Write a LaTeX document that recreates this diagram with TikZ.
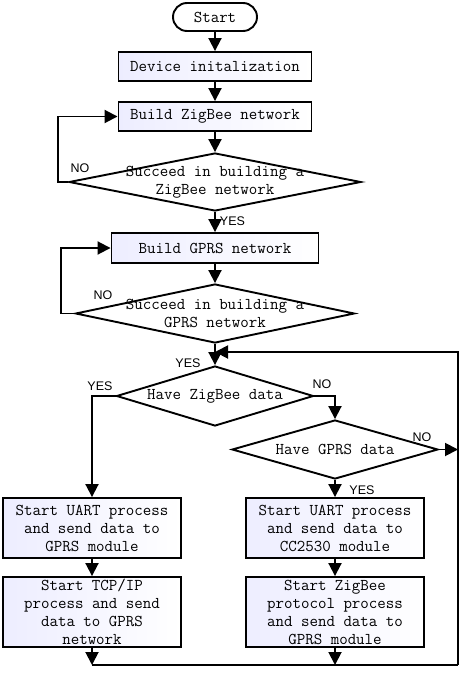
\documentclass[tikz,border=0pt]{standalone}
\usepackage{fontspec}
\usepackage{tikz}
\usetikzlibrary{shapes,shapes.geometric,arrows.meta,calc}
\newfontfamily\yesnofont{Liberation Sans}
\tikzstyle{arr}=[-{Triangle[length=13pt,width=13pt]}]
\tikzstyle{flowbox}=[draw, rectangle, left color=blue!7, right color=white, inner sep=0pt, align=center, font=\ttfamily\fontsize{16.5}{18}\selectfont]
\tikzstyle{decision}=[draw, diamond, inner sep=0pt, fill=white]
\tikzstyle{dtext}=[align=center, font=\ttfamily\fontsize{16.5}{18}\selectfont]
\tikzstyle{yn}=[font=\yesnofont\fontsize{12.5}{13}\selectfont, inner sep=1pt]

\begin{document}
\begin{tikzpicture}[x=1pt, y=-1pt, line width=1.9pt]
\useasboundingbox (0,0) rectangle (474,682);
% main column
\node[draw, rounded corners=14pt, minimum width=84, minimum height=28, inner sep=0pt, font=\ttfamily\fontsize{16.5}{18}\selectfont] (start) at (215,17) {Start};
\node[flowbox, minimum width=193, minimum height=29] (init) at (215,66.5) {Device initalization};
\node[flowbox, minimum width=193, minimum height=29] (zb) at (215,116.5) {Build ZigBee network};
\node[decision, minimum width=292, minimum height=58] (d1) at (215,182) {};
\node[dtext] at (d1) {Succeed in building a\\ZigBee network};
\node[flowbox, minimum width=207, minimum height=30] (gprs) at (215,248) {Build GPRS network};
\node[decision, minimum width=279, minimum height=59] (d2) at (215,313.5) {};
\node[dtext] at (d2) {Succeed in building a\\GPRS network};
\node[decision, minimum width=197, minimum height=60] (d3) at (215,396) {};
\node[dtext] at (d3) {Have ZigBee data};
\node[decision, minimum width=206, minimum height=59] (d4) at (335,449.5) {};
\node[dtext] at (d4) {Have GPRS data};
% process boxes
\node[flowbox, minimum width=178, minimum height=60] (l1) at (92,528) {Start UART process\\and send data to\\GPRS module};
\node[flowbox, minimum width=178, minimum height=70] (l2) at (92,612) {Start TCP/IP\\process and send\\data to GPRS\\network};
\node[flowbox, minimum width=178, minimum height=60] (r1) at (335,528) {Start UART process\\and send data to\\CC2530 module};
\node[flowbox, minimum width=178, minimum height=70] (r2) at (335,612) {Start ZigBee\\protocol process\\and send data to\\GPRS module};
\coordinate (join) at (215,352);
\coordinate (back) at (458,665);
\coordinate (left) at (92,665);

\draw[arr] (start) -- (init);
\draw[arr] (init) -- (zb);
\draw[arr] (zb) -- (d1);
\draw[arr] (d1.west) -- ++(-10,0) |- (zb.west);
\draw[arr] (d1.south) -- (gprs.north) node[yn, pos=0.45, right=3pt] {YES};
\node[yn] at (80,168) {NO};
\draw[arr] (gprs) -- (d2);
\draw[arr] (d2.west) -- ++(-14,0) |- (gprs.west);
\node[yn] at (103,295) {NO};
\draw[arr] (d2.south) -- (d3.north);
\node[yn] at (188,363) {YES};
\draw[arr] (d3.west) -| (l1.north);
\node[yn] at (100,386) {YES};
\draw[arr] (d3.east) -| (d4.north);
\node[yn] at (322,384) {NO};
\draw[arr] (d4.east) -- (d4.east -| back);
\node[yn] at (422,437) {NO};
\draw[arr] (d4.south) -- (r1.north);
\node[yn] at (362,490) {YES};
\draw[arr] (l1) -- (l2);
\draw[arr] (r1) -- (r2);
\draw[arr] (l2.south) -- (left);
\draw[arr] (r2.south) -- (r2.south |- back);
\draw (left) -- (back);
\draw[arr] (back) |- (join);
\end{tikzpicture}
\end{document}
